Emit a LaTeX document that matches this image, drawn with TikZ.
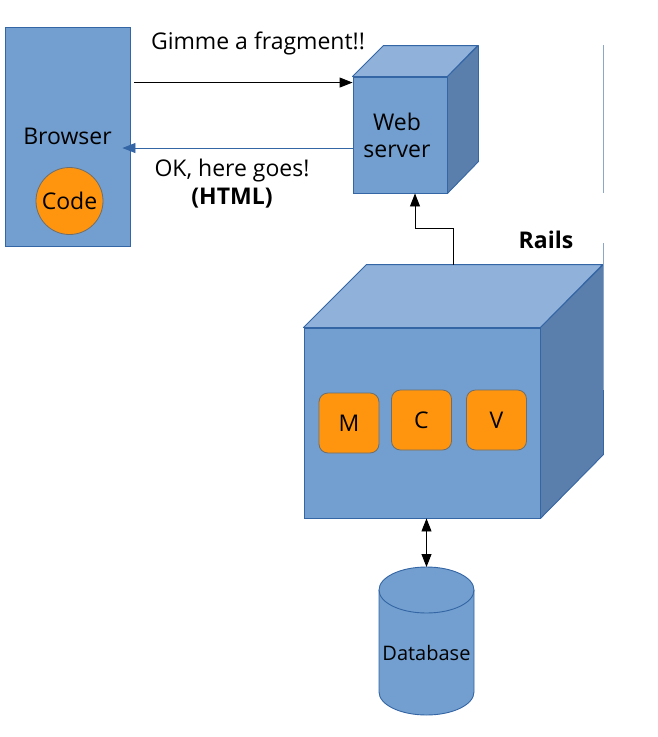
\documentclass[tikz,border=0pt]{standalone}
\usepackage{fontspec}
\setmainfont{Open Sans}
\usetikzlibrary{arrows.meta}
\definecolor{bfront}{HTML}{729FCF}
\definecolor{btop}{HTML}{8FB1DA}
\definecolor{bside}{HTML}{5A7FAC}
\definecolor{bline}{HTML}{3465A4}
\definecolor{orng}{HTML}{FF950E}
\definecolor{ogray}{HTML}{6E6E6E}
\definecolor{edgeblue}{HTML}{8CA6C8}
\tikzset{
  front/.style={draw=bline, fill=bfront, line width=0.9pt, inner sep=0pt},
  topface/.style={draw=bline, fill=btop, line width=0.9pt, line join=round},
  sideface/.style={draw=bline, fill=bside, line width=0.9pt, line join=round},
  orangebox/.style={draw=ogray, fill=orng, line width=0.8pt, rounded corners=9pt, minimum width=60pt, minimum height=60pt, inner sep=0pt},
  txt/.style={font=\fontsize{23}{27}\selectfont, align=center, inner sep=0pt},
  blackarrow/.style={line width=0.9pt, -{Triangle[length=13pt,width=10pt]}},
  bluearrow/.style={draw=bline, line width=0.9pt, -{Triangle[length=13pt,width=10pt]}},
  edgeline/.style={draw=edgeblue, line width=0.8pt}
}
\begin{document}
\begin{tikzpicture}[x=1pt,y=-1pt, font=\fontsize{23}{27}\selectfont]
\useasboundingbox (0,0) rectangle (658,737);
% Browser
\node[front, minimum width=125pt, minimum height=219pt] (browser) at (67.5,136.5) {};
\node[txt] (browsertxt) at (67.5,136) {Browser};
\node[draw=ogray, fill=orng, line width=0.8pt, circle, minimum size=67pt, inner sep=0pt] (code) at (69.5,201) {Code};
% Web server
\node[front, minimum width=94pt, minimum height=116pt] (ws) at (400,135) {};
\node[txt] (wstxt) at (397,135) {Web\\server};
\draw[topface] (ws.north west) -- ++(31,-31) -- ++(94,0) -- (ws.north east) -- cycle;
\draw[sideface] (ws.north east) -- ++(31,-31) -- ++(0,116) -- (ws.south east) -- cycle;
% Rails
\node[front, minimum width=236pt, minimum height=190pt] (rails) at (422,423) {};
\draw[topface] (rails.north west) -- ++(63,-63) -- ++(236,0) -- (rails.north east) -- cycle;
\draw[sideface] (rails.north east) -- ++(63,-63) -- ++(0,190) -- (rails.south east) -- cycle;
\node[orangebox] (m) at (349,423) {M};
\node[orangebox] (c) at (421.5,420) {C};
\node[orangebox] (v) at (496.5,420) {V};
\node[txt, font=\fontsize{23}{27}\selectfont\bfseries] (railstxt) at (546,240) {Rails};
% Database
\fill[bfront] (379,590) -- (379,692) arc[start angle=180, end angle=0, x radius=47.5, y radius=23] -- (474,590) -- cycle;
\draw[bline, line width=0.9pt] (379,590) -- (379,692) arc[start angle=180, end angle=0, x radius=47.5, y radius=23] -- (474,590);
\draw[bline, fill=bfront, line width=0.9pt] (426.5,590) ellipse[x radius=47.5, y radius=23];
\coordinate (dbtop) at (426.5,567);
\node[txt, font=\fontsize{20}{24}\selectfont] (db) at (426.5,653) {Database};
% Texts
\node[txt] (gimme) at (258,43) {Gimme a fragment!!};
\node[txt] (ok) at (232,171) {OK, here goes!};
\node[txt, font=\fontsize{23}{27}\selectfont\bfseries] (html) at (232,198) {(HTML)};
% Arrows
\draw[blackarrow] ([shift={(4,56)}]browser.north east) -- ([shift={(0,6)}]ws.north west);
\draw[bluearrow] ([shift={(0,13)}]ws.west) -- ([shift={(-8,11.5)}]browser.east);
\draw[blackarrow] ([shift={(31,-63)}]rails.north) -- ++(0,-36) -| ([xshift=15pt]ws.south);
\draw[line width=0.9pt, {Triangle[length=13pt,width=10pt]}-{Triangle[length=13pt,width=10pt]}] ([xshift=4.5pt]rails.south) -- (dbtop);
% right-hand edge lines
\draw[edgeline] (603,45) -- (603,193);
\draw[edgeline] (603,243) -- (603,390);
\end{tikzpicture}
\end{document}
